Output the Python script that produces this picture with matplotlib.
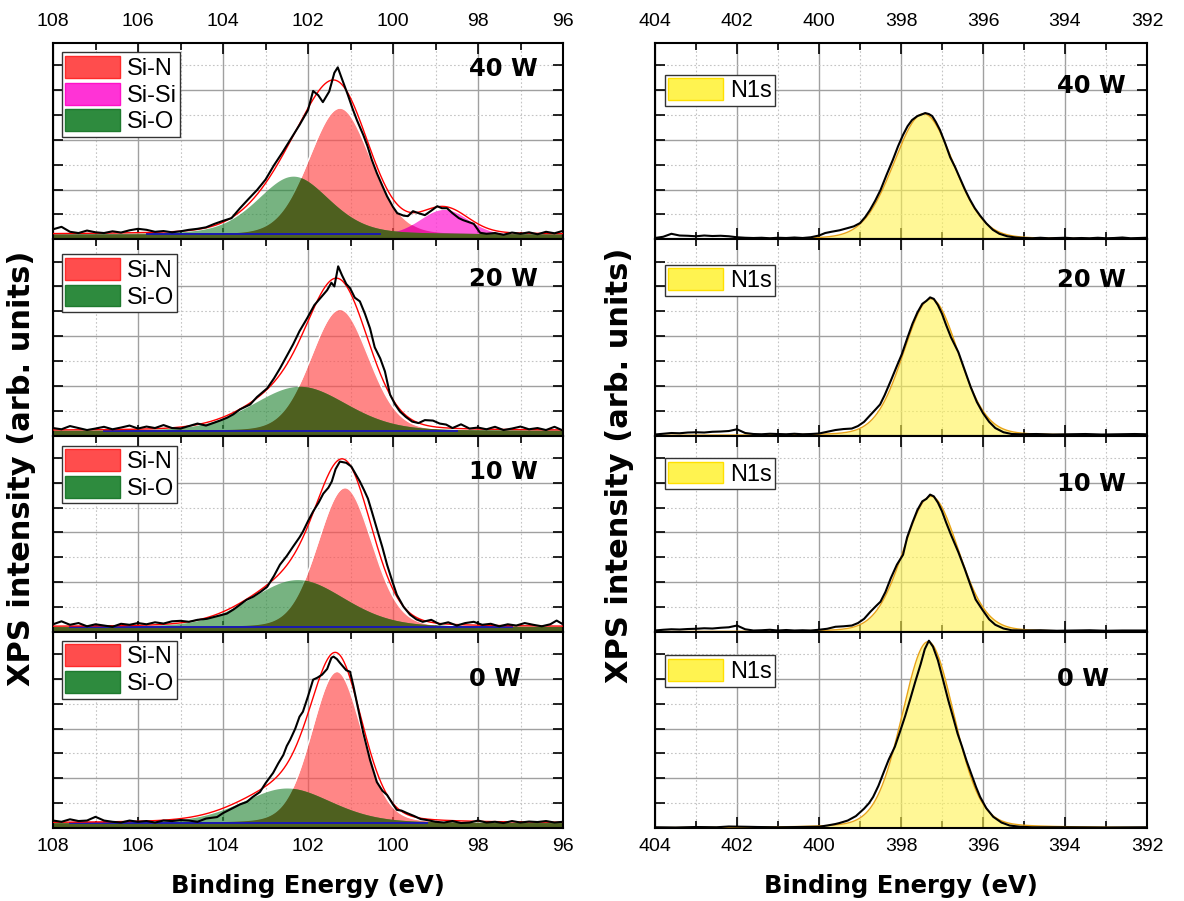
import numpy as np
import matplotlib
matplotlib.use("Agg")
import matplotlib.pyplot as plt
from matplotlib.patches import Patch
from matplotlib.ticker import MultipleLocator
from matplotlib.font_manager import FontProperties

plt.rcParams['font.family'] = ['Liberation Sans', 'DejaVu Sans']

# ---------------- data ----------------
powers = ["40 W", "20 W", "10 W", "0 W"]

# Si 2p measured spectra: (binding energy eV, intensity arb. units)
si_40w = [(108.0, 0.40), (107.8, 0.50), (107.6, 0.30), (107.4, 0.25), (107.2, 0.35), (107.0, 0.28),
          (106.8, 0.25), (106.6, 0.32), (106.4, 0.27), (106.2, 0.36), (106.0, 0.42), (105.8, 0.38),
          (105.6, 0.30), (105.4, 0.33), (105.2, 0.28), (105.0, 0.32), (104.8, 0.38), (104.6, 0.42),
          (104.4, 0.48), (104.2, 0.62), (104.0, 0.74), (103.8, 0.85), (103.6, 1.25), (103.4, 1.62),
          (103.2, 1.98), (103.0, 2.40), (102.8, 2.98), (102.6, 3.50), (102.4, 4.05), (102.2, 4.60),
          (102.0, 5.20), (101.88, 5.97), (101.76, 5.80), (101.65, 5.52), (101.5, 5.95), (101.38, 6.70),
          (101.3, 6.92), (101.2, 6.45), (101.06, 5.80), (100.95, 5.25), (100.85, 4.80), (100.7, 4.20),
          (100.6, 3.75), (100.5, 3.20), (100.38, 2.66), (100.25, 2.15), (100.14, 1.73), (100.0, 1.30),
          (99.9, 1.05), (99.75, 0.95), (99.65, 0.93), (99.53, 1.13), (99.4, 1.05), (99.25, 0.97),
          (99.1, 1.15), (98.96, 1.33), (98.85, 1.25), (98.73, 1.25), (98.6, 1.05), (98.45, 0.85),
          (98.35, 0.77), (98.2, 0.68), (98.1, 0.62), (97.95, 0.26), (97.8, 0.22), (97.6, 0.25),
          (97.4, 0.18), (97.2, 0.27), (97.0, 0.22), (96.8, 0.28), (96.6, 0.20), (96.4, 0.30),
          (96.2, 0.24), (96.0, 0.34)]
si_20w = [(108.0, 0.30), (107.8, 0.25), (107.6, 0.38), (107.4, 0.30), (107.2, 0.22), (107.0, 0.28),
          (106.8, 0.35), (106.6, 0.25), (106.4, 0.32), (106.2, 0.40), (106.0, 0.28), (105.8, 0.36),
          (105.6, 0.30), (105.4, 0.42), (105.2, 0.30), (105.0, 0.28), (104.8, 0.38), (104.6, 0.48),
          (104.4, 0.40), (104.2, 0.52), (104.07, 0.60), (103.9, 0.72), (103.76, 0.85), (103.6, 1.05),
          (103.36, 1.25), (103.2, 1.55), (102.96, 1.90), (102.8, 2.30), (102.66, 2.70), (102.5, 3.20),
          (102.35, 3.67), (102.2, 4.20), (102.02, 4.72), (101.85, 5.25), (101.7, 5.55), (101.55, 5.85),
          (101.45, 6.15), (101.38, 6.00), (101.29, 6.81), (101.2, 6.45), (101.1, 6.10), (101.01, 5.93),
          (100.9, 5.55), (100.78, 5.40), (100.66, 4.90), (100.54, 4.31), (100.43, 3.55), (100.3, 3.10),
          (100.19, 2.58), (100.07, 1.65), (99.95, 1.25), (99.84, 0.97), (99.7, 0.75), (99.55, 0.56),
          (99.4, 0.50), (99.25, 0.62), (99.06, 0.60), (98.9, 0.48), (98.75, 0.44), (98.6, 0.30),
          (98.4, 0.45), (98.2, 0.28), (98.0, 0.32), (97.8, 0.25), (97.6, 0.35), (97.4, 0.22),
          (97.2, 0.28), (97.0, 0.36), (96.8, 0.25), (96.6, 0.30), (96.4, 0.22), (96.2, 0.35),
          (96.0, 0.20)]
si_10w = [(108.0, 0.30), (107.8, 0.42), (107.6, 0.28), (107.4, 0.35), (107.2, 0.22), (107.0, 0.30),
          (106.8, 0.25), (106.6, 0.20), (106.4, 0.32), (106.2, 0.28), (106.0, 0.35), (105.8, 0.30),
          (105.6, 0.38), (105.4, 0.33), (105.2, 0.42), (105.0, 0.44), (104.8, 0.40), (104.6, 0.48),
          (104.38, 0.52), (104.2, 0.60), (103.91, 0.73), (103.75, 0.90), (103.6, 1.09), (103.45, 1.28),
          (103.29, 1.41), (103.12, 1.60), (102.96, 1.81), (102.8, 2.25), (102.66, 2.70), (102.5, 3.05),
          (102.35, 3.43), (102.2, 3.80), (102.12, 4.03), (102.0, 4.45), (101.88, 4.84), (101.75, 5.20),
          (101.64, 5.56), (101.52, 5.80), (101.44, 6.05), (101.35, 6.55), (101.25, 6.85), (101.1, 6.80),
          (100.98, 6.65), (100.88, 6.35), (100.78, 6.05), (100.68, 5.70), (100.59, 5.36), (100.5, 4.85),
          (100.38, 4.15), (100.25, 3.40), (100.14, 2.70), (100.02, 2.05), (99.91, 1.49), (99.75, 1.00),
          (99.6, 0.69), (99.45, 0.50), (99.3, 0.40), (99.1, 0.48), (98.9, 0.30), (98.7, 0.38),
          (98.5, 0.25), (98.3, 0.35), (98.1, 0.40), (97.9, 0.28), (97.7, 0.32), (97.5, 0.22),
          (97.3, 0.30), (97.1, 0.25), (96.9, 0.35), (96.7, 0.28), (96.5, 0.22), (96.3, 0.30),
          (96.15, 0.45), (96.0, 0.30)]
si_0w = [(108.0, 0.30), (107.8, 0.25), (107.6, 0.35), (107.4, 0.28), (107.2, 0.30), (107.0, 0.45),
         (106.8, 0.30), (106.6, 0.25), (106.4, 0.22), (106.2, 0.30), (106.0, 0.25), (105.8, 0.28),
         (105.6, 0.22), (105.4, 0.30), (105.2, 0.28), (105.0, 0.32), (104.8, 0.30), (104.6, 0.25),
         (104.4, 0.38), (104.14, 0.44), (104.0, 0.60), (103.76, 0.81), (103.6, 0.95), (103.44, 1.05),
         (103.3, 1.25), (103.13, 1.45), (103.0, 1.80), (102.82, 2.22), (102.7, 2.60), (102.58, 2.94),
         (102.5, 3.30), (102.42, 3.55), (102.3, 4.00), (102.2, 4.48), (102.12, 4.68), (102.0, 5.30),
         (101.88, 5.97), (101.78, 6.05), (101.67, 6.17), (101.55, 6.40), (101.45, 6.85), (101.4, 6.90),
         (101.32, 6.80), (101.25, 6.65), (101.1, 6.35), (101.01, 6.29), (100.93, 5.70), (100.85, 5.04),
         (100.7, 3.83), (100.54, 2.74), (100.38, 1.85), (100.25, 1.50), (100.14, 1.33), (100.0, 0.95),
         (99.91, 0.73), (99.8, 0.70), (99.67, 0.60), (99.5, 0.48), (99.35, 0.36), (99.2, 0.32),
         (99.0, 0.25), (98.8, 0.22), (98.6, 0.28), (98.4, 0.20), (98.2, 0.22), (98.0, 0.30),
         (97.8, 0.22), (97.6, 0.25), (97.4, 0.20), (97.2, 0.28), (97.0, 0.22), (96.8, 0.26),
         (96.6, 0.24), (96.4, 0.28), (96.2, 0.22), (96.0, 0.25)]

# N 1s measured spectra
n1s_40w = [(404.0, 0.05), (403.8, 0.10), (403.6, 0.22), (403.4, 0.15), (403.2, 0.14), (403.0, 0.12),
           (402.8, 0.15), (402.6, 0.13), (402.4, 0.14), (402.2, 0.12), (402.0, 0.08), (401.8, 0.06),
           (401.6, 0.05), (401.4, 0.06), (401.2, 0.04), (401.0, 0.06), (400.8, 0.05), (400.6, 0.07),
           (400.4, 0.05), (400.2, 0.08), (400.0, 0.15), (399.85, 0.25), (399.7, 0.30), (399.5, 0.36),
           (399.3, 0.45), (399.15, 0.52), (399.0, 0.65), (398.87, 0.90), (398.76, 1.17), (398.63, 1.55),
           (398.5, 1.98), (398.35, 2.60), (398.2, 3.19), (398.07, 3.75), (397.95, 4.20), (397.84, 4.55),
           (397.73, 4.80), (397.6, 4.96), (397.5, 5.02), (397.41, 5.08), (397.32, 5.04), (397.24, 4.96),
           (397.15, 4.72), (397.05, 4.40), (396.92, 3.85), (396.8, 3.30), (396.68, 2.90), (396.56, 2.45),
           (396.44, 2.00), (396.32, 1.60), (396.2, 1.25), (396.07, 0.95), (395.92, 0.64), (395.76, 0.38),
           (395.6, 0.22), (395.41, 0.12), (395.2, 0.07), (395.0, 0.05), (394.8, 0.04), (394.6, 0.06),
           (394.4, 0.04), (394.2, 0.05), (394.0, 0.06), (393.8, 0.04), (393.6, 0.05), (393.4, 0.04),
           (393.2, 0.06), (393.0, 0.04), (392.8, 0.05), (392.6, 0.07), (392.4, 0.04), (392.2, 0.05),
           (392.0, 0.06)]
n1s_20w = [(404.0, 0.04), (403.8, 0.07), (403.6, 0.10), (403.4, 0.09), (403.2, 0.12), (403.0, 0.13),
           (402.8, 0.12), (402.6, 0.15), (402.4, 0.16), (402.2, 0.18), (402.0, 0.25), (401.8, 0.10),
           (401.6, 0.06), (401.4, 0.05), (401.2, 0.07), (401.0, 0.06), (400.8, 0.05), (400.6, 0.07),
           (400.4, 0.05), (400.2, 0.06), (400.0, 0.08), (399.8, 0.15), (399.6, 0.22), (399.4, 0.26),
           (399.2, 0.28), (399.05, 0.38), (398.9, 0.55), (398.75, 0.82), (398.62, 1.05), (398.51, 1.25),
           (398.4, 1.62), (398.25, 2.20), (398.1, 2.80), (397.98, 3.27), (397.85, 3.90), (397.72, 4.50),
           (397.6, 4.95), (397.48, 5.30), (397.38, 5.42), (397.29, 5.56), (397.2, 5.50), (397.1, 5.25),
           (397.0, 4.90), (396.9, 4.45), (396.78, 3.95), (396.6, 3.35), (396.45, 2.65), (396.3, 1.95),
           (396.15, 1.35), (396.0, 0.90), (395.85, 0.55), (395.7, 0.30), (395.5, 0.13), (395.3, 0.06),
           (395.1, 0.05), (394.7, 0.06), (394.3, 0.04), (393.9, 0.05), (393.5, 0.06), (393.1, 0.04),
           (392.7, 0.05), (392.3, 0.06), (392.0, 0.05)]
n1s_10w = [(404.0, 0.05), (403.8, 0.08), (403.6, 0.10), (403.4, 0.09), (403.2, 0.11), (403.0, 0.12),
           (402.8, 0.14), (402.6, 0.13), (402.4, 0.16), (402.2, 0.18), (402.0, 0.25), (401.8, 0.10),
           (401.6, 0.05), (401.4, 0.06), (401.2, 0.08), (401.0, 0.05), (400.8, 0.07), (400.6, 0.05),
           (400.4, 0.06), (400.2, 0.05), (400.0, 0.08), (399.8, 0.12), (399.6, 0.20), (399.4, 0.22),
           (399.2, 0.25), (399.05, 0.35), (398.9, 0.52), (398.75, 0.80), (398.6, 1.05), (398.5, 1.21),
           (398.38, 1.60), (398.25, 2.15), (398.1, 2.70), (397.95, 3.10), (397.85, 3.80), (397.72, 4.40),
           (397.6, 4.90), (397.48, 5.25), (397.38, 5.35), (397.29, 5.52), (397.2, 5.45), (397.1, 5.20),
           (397.0, 4.85), (396.9, 4.40), (396.78, 3.90), (396.6, 3.20), (396.45, 2.55), (396.3, 1.85),
           (396.18, 1.30), (396.0, 0.85), (395.85, 0.50), (395.7, 0.28), (395.5, 0.13), (395.3, 0.06),
           (395.0, 0.05), (394.6, 0.06), (394.2, 0.04), (393.8, 0.05), (393.4, 0.06), (393.0, 0.04),
           (392.6, 0.05), (392.0, 0.05)]
n1s_0w = [(404.0, 0.03), (403.5, 0.02), (403.0, 0.04), (402.5, 0.03), (402.2, 0.06), (401.8, 0.05),
          (401.5, 0.04), (401.0, 0.03), (400.5, 0.04), (400.0, 0.05), (399.8, 0.10), (399.6, 0.16),
          (399.5, 0.20), (399.3, 0.30), (399.1, 0.48), (398.9, 0.78), (398.78, 1.00), (398.68, 1.25),
          (398.55, 1.70), (398.42, 2.25), (398.3, 2.75), (398.15, 3.27), (398.02, 3.90), (397.9, 4.50),
          (397.78, 5.16), (397.65, 5.90), (397.52, 6.60), (397.42, 7.20), (397.32, 7.54), (397.22, 7.30),
          (397.1, 6.75), (396.98, 6.00), (396.85, 5.16), (396.72, 4.40), (396.62, 3.80), (396.51, 3.27),
          (396.4, 2.70), (396.28, 2.15), (396.17, 1.65), (396.07, 1.25), (395.92, 0.80), (395.75, 0.45),
          (395.55, 0.22), (395.35, 0.10), (395.1, 0.05), (394.8, 0.03), (394.0, 0.03), (393.0, 0.02),
          (392.0, 0.03)]

si_spectra = [si_40w, si_20w, si_10w, si_0w]
n1s_spectra = [n1s_40w, n1s_20w, n1s_10w, n1s_0w]

# fitted components (centre eV, FWHM eV, height, Lorentzian fraction), one entry per panel
si_n_center = [101.25, 101.25, 101.13, 101.32]
si_n_fwhm = [1.70, 1.60, 1.50, 1.40]
si_n_height = [5.08, 4.88, 5.60, 6.10]
si_n_lor = [0.10, 0.10, 0.10, 0.15]

si_o_center = [102.35, 102.20, 102.25, 102.50]
si_o_fwhm = [2.00, 2.60, 2.60, 2.50]
si_o_height = [2.34, 1.78, 1.90, 1.41]
si_o_lor = [0.30, 0.20, 0.20, 0.30]

# Si-Si only found at 40 W
si_si_center = [98.80, None, None, None]
si_si_fwhm = [1.30, None, None, None]
si_si_height = [1.00, None, None, None]

si_bg = [0.20, 0.20, 0.20, 0.20]
si_bg_start = [105.8, 106.8, 107.6, 107.6]
si_bg_end = [100.3, 98.5, 97.2, 99.2]

n1s_center = [397.45, 397.27, 397.27, 397.34]
n1s_fwhm = [1.72, 1.58, 1.58, 1.50]
n1s_height = [5.05, 5.50, 5.45, 7.50]
n1s_lor = [0.12, 0.12, 0.12, 0.15]


def pvoigt(x, c, w, h, m):
    d = (x - c) / w
    return h * ((1 - m) * np.exp(-4 * np.log(2) * d ** 2) + m / (1 + 4 * d ** 2))


# ---------------- style ----------------
RED = '#FF4D4D'
MAG = '#FF33D6'
GREEN = '#2E8B3E'
OLIVE = '#4E601F'
YELLOW = '#FFF350'
tick_font = FontProperties(family='Liberation Sans', size=14)
leg_font = FontProperties(family='Liberation Sans', size=17)
bold = dict(family='DejaVu Sans', weight='bold')


def style_axis(ax, xlim, top_labels, bottom_labels):
    ax.set_xlim(*xlim)
    ax.set_ylim(0, 7.9)
    ax.xaxis.set_major_locator(MultipleLocator(2))
    ax.xaxis.set_minor_locator(MultipleLocator(1))
    ax.yaxis.set_major_locator(MultipleLocator(2))
    ax.yaxis.set_minor_locator(MultipleLocator(1))
    ax.grid(which='major', color='#A0A0A0', lw=1.0, ls='-')
    ax.grid(which='minor', color='#C4C4C4', lw=0.8, ls=(0, (1.5, 2.0)))
    ax.set_axisbelow(True)
    ax.tick_params(which='both', direction='in', top=True, bottom=True, left=True, right=True,
                   labelleft=False, labeltop=top_labels, labelbottom=bottom_labels, width=1.2)
    ax.tick_params(axis='x', which='major', length=8)
    ax.tick_params(axis='x', which='minor', length=5)
    ax.tick_params(axis='y', which='both', length=7)
    ax.tick_params(axis='x', which='major', pad=9 if top_labels else 7)
    for lab in ax.get_xticklabels():
        lab.set_fontproperties(tick_font)
    for s in ax.spines.values():
        s.set_linewidth(1.5)
        s.set_color('black')


fig = plt.figure(figsize=(11.84, 9.01), dpi=100)
W, H = 1184.0, 901.0
top_px, bot_px = 43.0, 828.0
ph = (bot_px - top_px) / 4

left_label_y = [0.865, 0.80, 0.816, 0.76]
right_label_y = [0.78, 0.79, 0.755, 0.76]
left_leg_top = [0.953, 0.924, 0.949, 0.955]
right_leg_mid = [0.76, 0.79, 0.806, 0.80]

xs = np.linspace(108, 96, 800)
xn = np.linspace(404, 392, 800)

for i in range(4):
    y0 = 1 - (top_px + (i + 1) * ph) / H
    axl = fig.add_axes([53 / W, y0, 510 / W, ph / H])
    axr = fig.add_axes([655 / W, y0, 492 / W, ph / H])

    # ---- Si 2p ----
    bg = si_bg[i]
    sin = pvoigt(xs, si_n_center[i], si_n_fwhm[i], si_n_height[i], si_n_lor[i])
    sio = pvoigt(xs, si_o_center[i], si_o_fwhm[i], si_o_height[i], si_o_lor[i])
    env = bg + sin + sio
    axl.fill_between(xs, 0, bg + sin, color=RED, alpha=0.68, lw=0, zorder=2)
    axl.plot(xs, bg + sin, color='white', lw=1.0, zorder=2.1)
    handles = [Patch(facecolor=RED, edgecolor='#FF2A2A', label='Si-N')]
    if si_si_center[i] is not None:
        sisi = pvoigt(xs, si_si_center[i], si_si_fwhm[i], si_si_height[i], 0.0)
        env = env + sisi
        axl.fill_between(xs, 0, bg + sisi, color=MAG, alpha=0.8, lw=0, zorder=2.2)
        axl.fill_between(xs, 0, bg + np.minimum(sisi, sin), color='#E8189E', alpha=0.9, lw=0, zorder=2.3)
        handles.append(Patch(facecolor=MAG, edgecolor='#FF10C8', label='Si-Si'))
    axl.fill_between(xs, 0, bg + sio, color=GREEN, alpha=0.65, lw=0, zorder=2.4)
    axl.fill_between(xs, 0, bg + np.minimum(sin, sio), color=OLIVE, lw=0, zorder=2.5)
    handles.append(Patch(facecolor=GREEN, edgecolor='#1E7A2E', label='Si-O'))

    bx = [si_bg_start[i], si_bg_end[i]]
    axl.plot(bx, [bg, bg], color='#1A1AB0', lw=1.4, zorder=3)
    axl.plot(xs, env, color='#FF0000', lw=1.0, zorder=3.2)
    e, y = np.array(si_spectra[i]).T
    axl.plot(e, y, color='black', lw=1.5, zorder=4)

    style_axis(axl, (108, 96), i == 0, i == 3)
    leg = axl.legend(handles=handles, loc='upper left', bbox_to_anchor=(0.017, left_leg_top[i]),
                     prop=leg_font, handlelength=2.3, handleheight=1.05, labelspacing=0.12,
                     handletextpad=0.3, borderpad=0.15, borderaxespad=0, fancybox=False,
                     framealpha=1, edgecolor='#333333')
    leg.get_frame().set_linewidth(1.0)
    axl.text(0.815, left_label_y[i], powers[i], transform=axl.transAxes, ha='left', va='center',
             fontsize=17.5, zorder=6, **bold)

    # ---- N 1s ----
    n1 = pvoigt(xn, n1s_center[i], n1s_fwhm[i], n1s_height[i], n1s_lor[i])
    axr.fill_between(xn, 0, n1, color=YELLOW, alpha=0.6, lw=0, zorder=2)
    axr.plot(xn, n1, color='#E8A317', lw=1.0, zorder=3)
    e, y = np.array(n1s_spectra[i]).T
    axr.plot(e, y, color='black', lw=1.5, zorder=4)

    style_axis(axr, (404, 392), i == 0, i == 3)
    leg = axr.legend(handles=[Patch(facecolor=YELLOW, edgecolor='#FFE000', label='N1s')],
                     loc='center left', bbox_to_anchor=(0.02, right_leg_mid[i]),
                     prop=leg_font, handlelength=2.3, handleheight=1.05,
                     handletextpad=0.3, borderpad=0.15, borderaxespad=0, fancybox=False,
                     framealpha=1, edgecolor='#333333')
    leg.get_frame().set_linewidth(1.0)
    axr.text(0.817, right_label_y[i], powers[i], transform=axr.transAxes, ha='left', va='center',
             fontsize=17.5, zorder=6, **bold)

fig.text(308 / W, 1 - 886 / H, 'Binding Energy (eV)', ha='center', va='center', fontsize=17.5, **bold)
fig.text(901 / W, 1 - 886 / H, 'Binding Energy (eV)', ha='center', va='center', fontsize=17.5, **bold)
fig.text(22 / W, 1 - 468 / H, 'XPS intensity (arb. units)', ha='center', va='center',
         rotation=90, fontsize=22, **bold)
fig.text(620 / W, 1 - 465 / H, 'XPS intensity (arb. units)', ha='center', va='center',
         rotation=90, fontsize=22, **bold)

fig.savefig('out.png', dpi=100)
